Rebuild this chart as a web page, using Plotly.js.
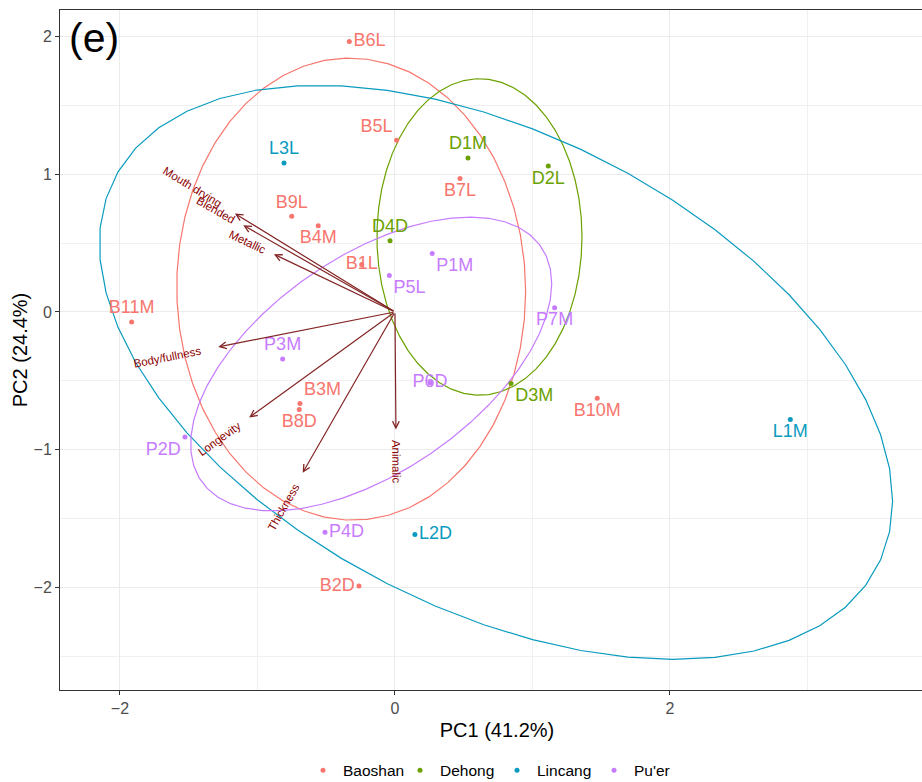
<!DOCTYPE html>
<html><head><meta charset="utf-8">
<script src="https://cdn.plot.ly/plotly-3.0.1.min.js"></script>
<style>html,body{margin:0;padding:0;overflow:hidden;background:#fff}#chart{width:942px;height:782px}</style>
</head><body><div id="chart"></div>
<script>
const groups = ["Baoshan", "Dehong", "Lincang", "Pu'er"];
const groupColors = ["#F8766D", "#6BA100", "#0A9BBF", "#C77CFF"];

const samples = ["B6L","B5L","L3L","B9L","B4M","D4D","B1L","P5L","P1M","B11M","D1M","B7L","D2L","P7M","D3M","B10M","L1M","P3M","P6D","B3M","B8D","P2D","P4D","L2D","B2D"];
const pc1 = [-0.332,0.012,-0.807,-0.751,-0.558,-0.036,-0.242,-0.041,0.271,-1.915,0.531,0.473,1.115,1.161,0.844,1.471,2.875,-0.817,0.255,-0.691,-0.696,-1.527,-0.509,0.145,-0.262];
const pc2 = [1.966,1.247,1.082,0.695,0.627,0.518,0.344,0.264,0.424,-0.073,1.118,0.969,1.060,0.030,-0.520,-0.627,-0.781,-0.341,-0.515,-0.665,-0.709,-0.908,-1.600,-1.617,-1.992];
const region = ["Baoshan","Baoshan","Lincang","Baoshan","Baoshan","Dehong","Baoshan","Pu'er","Pu'er","Baoshan","Dehong","Baoshan","Dehong","Pu'er","Dehong","Baoshan","Lincang","Pu'er","Pu'er","Baoshan","Baoshan","Pu'er","Pu'er","Lincang","Baoshan"];
const labelPos = ["middle right","top left","top center","top center","bottom center","top center","middle center","bottom right","bottom right","top center","top center","bottom center","bottom center","bottom center","bottom right","bottom center","bottom center","top center","middle center","top right","bottom center","bottom left","middle right","middle right","middle left"];

const variables = ["Mouth drying","Blended","Metallic","Body/fullness","Longevity","Thickness","Animalic"];
const loadPC1 = [-1.164,-1.103,-0.880,-1.285,-1.060,-0.671,0.007];
const loadPC2 = [0.715,0.630,0.419,-0.254,-0.767,-1.169,-0.854];

// ellipse centre and shape (covariance-like) per group
const ellCx = [-0.3185, 0.6145, 0.7345, -0.173];
const ellCy = [0.166, 0.545, -0.439, -0.378];
const ellSxx = [1.610, 0.556, 8.32, 1.724];
const ellSyy = [2.819, 1.3225, 4.35, 1.1396];
const ellSxy = [-0.02, 0.0, -2.70, 0.767];

const FONT = "Liberation Sans, Arial, Helvetica, sans-serif";
const W = 942, H = 782, ML = 60, MR = 8, MT = 10, MB = 92;
const xRange = [-2.436, 3.92], yRange = [-2.747, 2.194];
const sx = (W - ML - MR) / (xRange[1] - xRange[0]);
const sy = (H - MT - MB) / (yRange[1] - yRange[0]);
const arrowColor = "#832424", varTextColor = "#8B0000";

const traces = [];
// ellipses
groups.forEach((g, gi) => {
  const n = 51, a = Math.sqrt(ellSxx[gi]), c = ellSxy[gi] / a, d = Math.sqrt(ellSyy[gi] - c * c);
  const xs = [], ys = [];
  for (let i = 0; i <= n; i++) {
    const t = 2 * Math.PI * i / n;
    xs.push(ellCx[gi] + a * Math.cos(t));
    ys.push(ellCy[gi] + c * Math.cos(t) + d * Math.sin(t));
  }
  traces.push({x: xs, y: ys, mode: "lines", line: {color: groupColors[gi], width: 1.2}, showlegend: false, hoverinfo: "skip"});
});
// points + labels
groups.forEach((g, gi) => {
  const idx = region.map((r, i) => r === g ? i : -1).filter(i => i >= 0);
  traces.push({
    x: idx.map(i => pc1[i]), y: idx.map(i => pc2[i]), text: idx.map(i => samples[i]),
    textposition: idx.map(i => labelPos[i]), mode: "markers+text",
    marker: {color: groupColors[gi], size: 5}, textfont: {family: FONT, size: 18, color: groupColors[gi]},
    showlegend: false, name: g
  });
});
// legend entries
groups.forEach((g, gi) => {
  traces.push({x: [null], y: [null], mode: "markers", marker: {color: groupColors[gi], size: 5}, name: g, showlegend: true});
});

const annotations = [];
const ctx = document.createElement("canvas").getContext("2d");
ctx.font = "11.5px 'Liberation Sans'";
variables.forEach((v, i) => {
  const lx = loadPC1[i], ly = loadPC2[i];
  annotations.push({x: lx, y: ly, ax: 0, ay: 0, xref: "x", yref: "y", axref: "x", ayref: "y", text: "",
    showarrow: true, arrowhead: 5, arrowsize: 1.1, arrowwidth: 1.2, arrowcolor: arrowColor});
  const px = lx * sx, py = ly * sy, len = Math.hypot(px, py);
  const ux = px / len, uy = py / len;
  const w = ctx.measureText(v).width;
  const dist = 0.75 * w;
  let ang = -Math.atan(ly / lx) * 180 / Math.PI;
  annotations.push({x: lx + ux * dist / sx, y: ly + uy * dist / sy, xref: "x", yref: "y", text: v, showarrow: false,
    textangle: ang, xanchor: "center", yanchor: "middle", font: {family: FONT, size: 11.5, color: varTextColor}});
});
annotations.push({xref: "paper", yref: "paper", x: 0, y: 1, xanchor: "left", yanchor: "top", xshift: 7, yshift: -3,
  text: "(e)", showarrow: false, font: {family: FONT, size: 41, color: "#000"}});

const axisCommon = {
  showline: true, mirror: true, linecolor: "#333333", linewidth: 1,
  ticks: "outside", ticklen: 4, tickcolor: "#333333", tickwidth: 1,
  tickfont: {family: FONT, size: 16, color: "#4d4d4d"},
  showgrid: true, gridcolor: "#ebebeb", gridwidth: 1, zeroline: false, automargin: false
};
const layout = {
  width: W, height: H, margin: {l: ML, r: MR, t: MT, b: MB, autoexpand: false},
  paper_bgcolor: "#fff", plot_bgcolor: "#fff", font: {family: FONT},
  xaxis: Object.assign({}, axisCommon, {range: xRange, tick0: 0, dtick: 2,
    minor: {dtick: 1, showgrid: true, gridcolor: "#f0f0f0", gridwidth: 1},
    title: {text: "PC1 (41.2%)", font: {family: FONT, size: 20, color: "#000"}, standoff: 6}}),
  yaxis: Object.assign({}, axisCommon, {range: yRange, tick0: 0, dtick: 1,
    minor: {dtick: 0.5, showgrid: true, gridcolor: "#f0f0f0", gridwidth: 1},
    title: {text: "PC2 (24.4%)", font: {family: FONT, size: 20, color: "#000"}, standoff: 0}}),
  showlegend: true,
  legend: {orientation: "h", x: 0.5, xanchor: "center", y: -(80.7 / (H - MT - MB)), yanchor: "middle",
    font: {family: FONT, size: 15.5, color: "#000"}, itemwidth: 30, entrywidth: 52, entrywidthmode: "pixels",
    bgcolor: "rgba(0,0,0,0)"},
  annotations: annotations
};
Plotly.newPlot("chart", traces, layout, {displayModeBar: false, staticPlot: true});
</script>
</body></html>
